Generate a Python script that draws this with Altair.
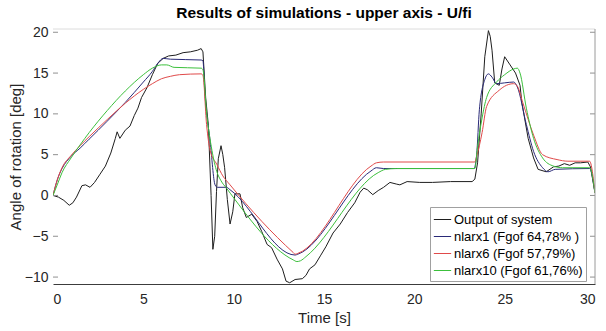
import altair as alt
import pandas as pd

# ---------------- data ----------------
SERIES = ["Output of system", "nlarx1 (Fgof 64,78% )", "nlarx6 (Fgof 57,79%)", "nlarx10 (Fgof 61,76%)"]
COLORS = ["#1e1e1e", "#2a2a78", "#e04a4a", "#3cc03c"]

T_OUT = [0, 0.3, 0.6, 0.9, 1.1, 1.3, 1.6, 1.8, 2.05, 2.3, 2.6, 2.9, 3.2, 3.45, 3.55, 3.7, 4.0, 4.26,
         4.5, 4.7, 4.9, 5.2, 5.5, 5.8, 6.1, 6.4, 6.8, 7.2, 7.6, 8.0, 8.2, 8.3, 8.45, 8.6, 8.75, 8.85,
         8.95, 9.05, 9.15, 9.3, 9.4, 9.5, 9.65, 9.8, 9.95, 10.07, 10.35, 10.5, 10.7, 11.0, 11.3, 11.55,
         11.85, 12.1, 12.4, 12.7, 12.9, 13.1, 13.4, 13.8, 14.0, 14.2, 14.5, 14.8, 15.1, 15.5, 15.9,
         16.3, 16.7, 17.0, 17.2, 17.4, 17.7, 18.0, 18.3, 18.65, 19.0, 19.2, 19.6, 20.3, 21.0, 22.0,
         23.2, 23.35, 23.5, 23.7, 23.9, 24.1, 24.2, 24.3, 24.45, 24.7, 24.85, 25.0, 25.3, 25.6, 25.85,
         25.95, 26.3, 26.6, 26.85, 27.3, 27.7, 28.0, 28.3, 28.6, 28.9, 29.2, 29.6, 29.75, 30.0]
V_OUT = [0, -0.2, -0.6, -1.2, -0.9, -0.2, 1.2, 1.3, 1.0, 1.6, 2.6, 3.6, 5.2, 7.0, 7.8, 7.0, 8.0, 8.5,
         9.8, 10.7, 12.0, 13.2, 14.8, 16.2, 16.8, 17.1, 17.2, 17.5, 17.6, 17.8, 18.0, 17.6, 12.0, 8.6, 0.0, -6.6,
         -5.0, 0.5, 4.5, 6.1, 5.0, 3.4, -0.5, -3.5, -2.0, 0.2, 0.2, -1.5, -2.7, -2.3, -3.2, -4.4,
         -6.0, -6.4, -7.8, -9.0, -10.5, -10.7, -10.3, -10.2, -9.8, -9.0, -8.5, -7.4, -6.3, -4.6, -3.5,
         -2.1, -0.9, 0.4, 0.9, 0.7, 0.1, 0.6, 1.0, 1.6, 1.4, 1.3, 1.7, 1.6, 1.6, 1.7,
         1.7, 2.0, 4.0, 10.0, 17.0, 20.2, 19.5, 17.8, 13.8, 13.5, 15.5, 17.0, 16.0, 15.0, 13.5,
         11.4, 7.0, 4.6, 3.2, 2.9, 3.5, 3.6, 3.9, 3.7, 4.0, 4.0, 4.1, 3.5, 0.3]

T_N1 = [0, 0.25, 0.5, 1.0, 1.5, 2.0, 3.0, 4.0, 5.0, 5.5, 5.8, 6.1, 6.5, 8.2, 8.3, 8.4, 8.7, 8.97,
        9.1, 9.6, 9.8, 13.4, 13.55, 17.6, 17.9, 18.3, 23.3, 23.45, 23.6, 23.9, 24.1, 24.3, 24.55,
        25.0, 25.5, 25.7, 26.2, 26.6, 27.1, 27.4, 27.8, 29.7, 30.0]
V_N1 = [0, 2.0, 3.3, 4.8, 5.8, 6.9, 9.1, 11.4, 13.9, 15.2, 16.2, 16.8, 16.7, 16.6, 16.5, 12.7, 6.6, 1.3,
        1.0, 1.0, 0.7, -7.3, -7.2, 3.0, 3.4, 3.3, 3.3, 5.0, 10.5, 14.2, 14.9, 14.5, 13.7,
        13.8, 13.9, 13.3, 8.7, 5.4, 3.4, 2.9, 3.2, 3.3, 0.3]

T_N6 = [0, 0.25, 0.5, 1.0, 1.5, 2.0, 3.0, 4.0, 5.0, 5.5, 6.0, 6.5, 7.0, 8.2, 8.3, 8.5, 8.7, 9.07,
        9.4, 9.8, 13.3, 13.4, 13.55, 17.6, 17.9, 18.3, 23.35, 23.45, 23.75, 24.0, 24.7, 25.5, 25.7,
        26.0, 26.6, 27.1, 27.9, 28.5, 29.7, 30.0]
V_N6 = [0, 2.0, 3.4, 4.9, 6.1, 7.2, 9.3, 11.3, 13.0, 13.7, 14.3, 14.6, 14.8, 14.9, 14.7, 8.7, 5.5, 3.8,
        2.4, 1.3, -7.0, -7.2, -7.1, 3.6, 4.0, 4.1, 4.1, 4.8, 7.7, 10.9, 12.9, 13.7, 13.4,
        11.4, 7.4, 5.0, 4.4, 4.2, 4.2, 0.3]

T_N10 = [0, 0.25, 0.5, 1.0, 1.5, 2.0, 3.0, 4.0, 5.0, 5.5, 6.0, 6.3, 6.7, 8.2, 8.3, 8.5, 8.8, 9.07,
         9.3, 9.6, 13.3, 13.5, 13.7, 14.0, 18.0, 18.4, 19.0, 23.35, 23.5, 23.75, 24.0, 24.55, 25.0,
         25.5, 25.7, 25.85, 26.2, 26.6, 27.1, 27.7, 28.2, 29.7, 30.0]
V_N10 = [0, 1.4, 2.8, 4.6, 6.2, 7.7, 10.4, 12.8, 14.8, 15.6, 16.0, 16.0, 15.7, 15.6, 15.4, 10.2, 5.5, 2.9,
         1.8, 0.9, -7.9, -8.1, -8.0, -7.5, 2.8, 3.2, 3.3, 3.3, 6.0, 9.5, 12.0, 13.9, 14.8,
         15.5, 15.6, 15.0, 10.7, 7.0, 4.6, 3.6, 3.4, 3.4, 0.3]

X_TICKS = [0, 5, 10, 15, 20, 25, 30]
Y_TICKS = [-10, -5, 0, 5, 10, 15, 20]

# ---------------- build table ----------------
rows = []
for name, ts, vs in zip(SERIES, [T_OUT, T_N1, T_N6, T_N10], [V_OUT, V_N1, V_N6, V_N10]):
    for i, (t, v) in enumerate(zip(ts, vs)):
        rows.append({"series": name, "t": t, "v": v, "i": i})
df = pd.DataFrame(rows)
df_out = df[df["series"] == SERIES[0]]
df_mod = df[df["series"] != SERIES[0]]

W, H = 542, 255
FONT = "Liberation Sans"

xscale = alt.Scale(domain=[0, 30], nice=False, zero=False)
yscale = alt.Scale(domain=[-10.85, 20.4], nice=False, zero=False)

x_axis = alt.Axis(values=X_TICKS, title="Time [s]", grid=False, ticks=False,
                  domainColor="#3c3c3c", labelPadding=8, titlePadding=4,
                  labelFont=FONT, titleFont=FONT, labelFontSize=14, titleFontSize=15,
                  labelColor="#262626", titleColor="#262626", titleFontWeight="normal")
y_axis = alt.Axis(values=Y_TICKS, title="Angle of rotation [deg]", grid=False,
                  ticks=False, domain=False, labelPadding=5, titlePadding=1,
                  labelFont=FONT, titleFont=FONT, labelFontSize=14, titleFontSize=15,
                  labelColor="#262626", titleColor="#262626", titleFontWeight="normal")

color = alt.Color("series:N",
                  scale=alt.Scale(domain=SERIES, range=COLORS),
                  sort=SERIES,
                  legend=alt.Legend(title=None, orient="none", legendX=377, legendY=178,
                                    symbolType="stroke", symbolSize=300, symbolStrokeWidth=1,
                                    labelFontSize=13, labelFont=FONT, labelColor="#000000",
                                    labelOffset=2, rowPadding=0, padding=3,
                                    strokeColor="#a0a0a0", fillColor="#ffffff",
                                    labelLimit=300))

out_line = alt.Chart(df_out).mark_line(strokeWidth=1, clip=True).encode(
    x=alt.X("t:Q", scale=xscale, axis=x_axis),
    y=alt.Y("v:Q", scale=yscale, axis=y_axis),
    color=color,
    order=alt.Order("i:Q"),
)
model_lines = alt.Chart(df_mod).mark_line(strokeWidth=1, clip=True, interpolate="monotone").encode(
    x=alt.X("t:Q", scale=xscale, axis=x_axis),
    y=alt.Y("v:Q", scale=yscale, axis=y_axis),
    color=color,
    order=alt.Order("i:Q"),
)

tick_df = pd.DataFrame({"v": Y_TICKS})
left_ticks = alt.Chart(tick_df).mark_rule(color="#909090", strokeWidth=1).encode(
    y=alt.Y("v:Q", scale=yscale, axis=y_axis),
    x=alt.value(0), x2=alt.value(5))
right_ticks = alt.Chart(tick_df).mark_rule(color="#909090", strokeWidth=1).encode(
    y=alt.Y("v:Q", scale=yscale, axis=y_axis),
    x=alt.value(W - 5), x2=alt.value(W))

one = pd.DataFrame({"a": [0]})
top_border = alt.Chart(one).mark_rule(color="#dcdcdc", strokeWidth=1).encode(
    x=alt.value(0), x2=alt.value(W), y=alt.value(0))
right_border = alt.Chart(one).mark_rule(color="#9a9a9a", strokeWidth=1).encode(
    x=alt.value(W), y=alt.value(0), y2=alt.value(H))

chart = alt.layer(out_line, model_lines, left_ticks, right_ticks, top_border, right_border).properties(
    width=W, height=H,
    title=alt.TitleParams("Results of simulations - upper axis - U/fi", fontSize=15.5,
                          font=FONT, fontWeight="bold", color="#000000", anchor="middle",
                          offset=4),
    autosize=alt.AutoSizeParams(type="none"),
    padding={"left": 53, "top": 29, "right": 11, "bottom": 47},
).configure_view(stroke=None)

chart.save("out.html", embed_options={"renderer": "svg", "actions": False})
